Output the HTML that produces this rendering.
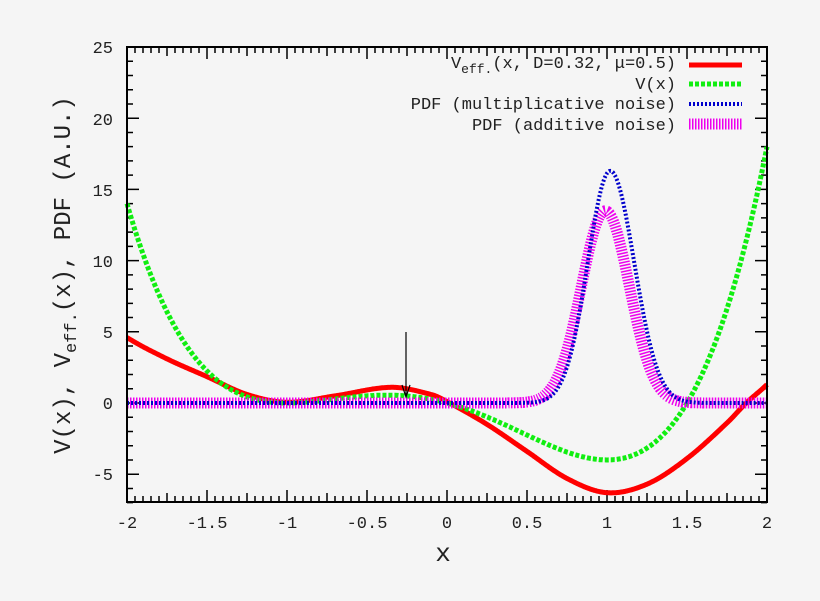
<!DOCTYPE html>
<html><head><meta charset="utf-8"><style>
html,body{margin:0;padding:0;background:#f5f5f5;}
svg{display:block;font-family:"Liberation Mono",monospace;}
</style></head><body>
<svg id="s" width="820" height="601" viewBox="0 0 820 601" xmlns="http://www.w3.org/2000/svg">
<rect width="820" height="601" fill="#f5f5f5"/>
<g id="ticks" stroke="#000" stroke-width="1.5" fill="none"></g>
<g id="curves" fill="none"></g>
<rect x="127" y="47" width="640" height="455" fill="none" stroke="#000" stroke-width="2"/>
<g font-size="17" fill="#222" text-anchor="end">
<text x="113" y="53">25</text><text x="113" y="125">20</text><text x="113" y="196">15</text>
<text x="113" y="267">10</text><text x="113" y="338">5</text><text x="113" y="409">0</text><text x="113" y="480">-5</text>
</g>
<g font-size="17" fill="#222" text-anchor="middle">
<text x="127" y="528">-2</text><text x="207" y="528">-1.5</text><text x="287" y="528">-1</text>
<text x="367" y="528">-0.5</text><text x="447" y="528">0</text><text x="527" y="528">0.5</text>
<text x="607" y="528">1</text><text x="687" y="528">1.5</text><text x="767" y="528">2</text>
</g>
<text x="443" y="561" font-size="26" fill="#222" text-anchor="middle">x</text>
<text transform="translate(70,275) rotate(-90)" font-size="24" fill="#222" text-anchor="middle">V(x), V<tspan font-size="17" dy="6">eff.</tspan><tspan dy="-6">(x), PDF (A.U.)</tspan></text>
<g font-size="17" fill="#222" text-anchor="end">
<text x="676" y="68">V<tspan font-size="13" dy="5">eff.</tspan><tspan dy="-5">(x, D=0.32, μ=0.5)</tspan></text>
<text x="676" y="89">V(x)</text>
<text x="676" y="109">PDF (multiplicative noise)</text>
<text x="676" y="130">PDF (additive noise)</text>
</g>
<line x1="689" y1="65" x2="742" y2="65" stroke="#f00" stroke-width="5"/>
<line x1="689" y1="84" x2="742" y2="84" stroke="#1e1" stroke-width="5" stroke-dasharray="4,2"/>
<line x1="689" y1="104" x2="742" y2="104" stroke="#00c" stroke-width="4" stroke-dasharray="2,2"/>
<line x1="689" y1="124" x2="742" y2="124" stroke="#e0e" stroke-width="11" stroke-dasharray="1.5,1.5"/>
<g id="arrow"></g>
</svg>
<script>
var NS="http://www.w3.org/2000/svg";
function X(x){return 447+160*x;} function Y(v){return 403-14.24*v;}
var t=document.getElementById("ticks"),d="";
for(var i=0;i<=80;i++){var x=127+8*i,L=(i%10==0)?12:(i%5==0?9:6);d+="M"+x+",502v-"+L+"M"+x+",47v"+L;}
for(var v=-7;v<=25;v++){var y=Y(v),L=(v%5==0)?12:6;d+="M127,"+y+"h"+L+"M767,"+y+"h-"+L;}
var p=document.createElementNS(NS,"path");p.setAttribute("d",d);t.appendChild(p);
function V(x){return 2*x*(x+1)*(x+1)*(x-1.5);}
var R=[[-2.05,5.2],[-2,4.6],[-1.75,3.1],[-1.5,1.85],[-1.25,0.6],[-1,0.05],[-0.7,0.5],[-0.35,1.1],[-0.1,0.6],[0,0.1],[0.25,-1.5],[0.5,-3.4],[0.75,-5.3],[1,-6.3],[1.25,-5.7],[1.5,-3.9],[1.75,-1.4],[1.87,0],[2,1.3],[2.05,2]];
function cr(x){for(var i=1;i<R.length-2;i++){if(x<=R[i+1][0]){var p0=R[i-1],p1=R[i],p2=R[i+1],p3=R[i+2];var h=p2[0]-p1[0],t=(x-p1[0])/h;
var m1=(p2[1]-p0[1])/(p2[0]-p0[0])*h,m2=(p3[1]-p1[1])/(p3[0]-p1[0])*h;
var t2=t*t,t3=t2*t;return (2*t3-3*t2+1)*p1[1]+(t3-2*t2+t)*m1+(-2*t3+3*t2)*p2[1]+(t3-t2)*m2;}}return R[R.length-2][1];}
function path(f,col,w,da){var s="";for(var i=0;i<=800;i++){var x=-2+4*i/800;s+=(i?"L":"M")+X(x).toFixed(1)+","+Y(f(x)).toFixed(1);}
var e=document.createElementNS(NS,"path");e.setAttribute("d",s);e.setAttribute("stroke",col);e.setAttribute("stroke-width",w);if(da)e.setAttribute("stroke-dasharray",da);
document.getElementById("curves").appendChild(e);}
function g(x,c,sl,sr,A){var s=x<c?sl:sr;return A*Math.exp(-(x-c)*(x-c)/(2*s*s));}
path(cr,"#f00",5);
path(V,"#1e1",5,"4,2");
path(function(x){return g(x,0.99,0.15,0.15,13.5);},"#e0e",11,"1.5,1.5");
path(function(x){return g(x,1.02,0.14,0.15,16.3);},"#00c",4,"2,2");
var a=document.getElementById("arrow");
a.innerHTML='<line x1="406" y1="332" x2="406" y2="396" stroke="#000" stroke-width="1.2"/><path d="M402,385 L406,397 L410,385" fill="none" stroke="#000" stroke-width="1.2"/>';
</script>
</body></html>
